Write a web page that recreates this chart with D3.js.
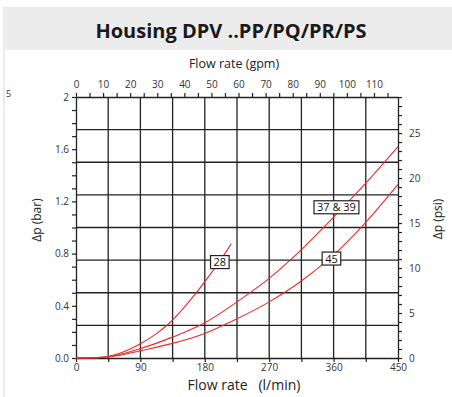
<!DOCTYPE html>
<html><head><meta charset="utf-8">
<script src="https://cdn.jsdelivr.net/npm/d3@7"></script>
<style>
body{margin:0;background:#fff;}
svg{display:block;font-family:"Open Sans",sans-serif;}
</style></head>
<body><svg id="c" width="452" height="397"></svg>
<script>
// ---- data ----
const title = "Housing DPV ..PP/PQ/PR/PS";
const flowLmin = [0, 30, 45, 60, 90, 135, 180, 225, 270, 315, 360, 405, 450];
const series28Flow = [0, 30, 45, 60, 90, 112, 131, 150, 166, 180, 200, 217];
const series28Dp   = [0, 0.003, 0.012, 0.035, 0.11, 0.185, 0.27, 0.38, 0.485, 0.585, 0.735, 0.875];
const series3739Dp = [0, 0.003, 0.01, 0.025, 0.072, 0.16, 0.27, 0.43, 0.61, 0.83, 1.08, 1.34, 1.62];
const series45Dp   = [0, 0.003, 0.009, 0.02, 0.056, 0.112, 0.188, 0.30, 0.43, 0.59, 0.79, 1.04, 1.33];
const seriesNames = ["28", "37 & 39", "45"];
const labelFlow = [201, 364, 357];
const labelDp   = [0.735, 1.155, 0.762];
const xTicksLmin = [0, 45, 90, 135, 180, 225, 270, 315, 360, 405, 450];
const xLabelsLmin = [0, 90, 180, 270, 360, 450];
const gpmLabels = [0, 10, 20, 30, 40, 50, 60, 70, 80, 90, 100, 110];
const barLabels = [0, 0.4, 0.8, 1.2, 1.6, 2];
const psiLabels = [0, 5, 10, 15, 20, 25];
const gridBar = [0.25, 0.5, 0.75, 1, 1.25, 1.5, 1.75];
const gridLmin = [45, 90, 135, 180, 225, 270, 315, 360, 405];
const LMIN_PER_GPM = 3.785411784;
const PSI_PER_BAR = 14.5038;

// ---- layout ----
const svg = d3.select("#c");
const L = 76, R = 398, T = 97, B = 358;
const x = d3.scaleLinear([0, 450], [L, R]);
const xg = d3.scaleLinear([0, 450 / LMIN_PER_GPM], [L, R]);
const y = d3.scaleLinear([0, 2], [B, T]);
const yp = d3.scaleLinear([0, 2 * PSI_PER_BAR], [B, T]);
const ink = "#222", txt = "#333", red = "#ec2a2a";

// header
svg.append("rect").attr("x", 3).attr("y", 7).attr("width", 449).attr("height", 43).attr("fill", "#ececec");
svg.append("rect").attr("x", 3).attr("y", 50).attr("width", 2).attr("height", 347).attr("fill", "#ececec");
svg.append("text").attr("x", 231).attr("y", 38).attr("text-anchor", "middle")
  .attr("font-size", 20).attr("font-weight", "bold").attr("fill", "#1a1a1a").text(title);
svg.append("text").attr("x", 6).attr("y", 97).attr("font-size", 9).attr("fill", txt).text("5");

// grid
const g = svg.append("g");
g.selectAll(".gv").data(gridLmin).join("line")
  .attr("x1", d => x(d)).attr("x2", d => x(d)).attr("y1", T).attr("y2", B)
  .attr("stroke", ink).attr("stroke-width", 1.3);
g.selectAll(".gh").data(gridBar).join("line")
  .attr("x1", L).attr("x2", R).attr("y1", d => y(d)).attr("y2", d => y(d))
  .attr("stroke", ink).attr("stroke-width", 1.3);

function styleAxis(sel) {
  sel.selectAll("path").attr("stroke", ink).attr("stroke-width", 1.3);
  sel.selectAll("line").attr("stroke", ink).attr("stroke-width", 1.2);
  sel.selectAll("text").attr("fill", txt).attr("font-size", 10).attr("font-family", "Open Sans, sans-serif");
}
const near = (a, b) => Math.abs(a - b) < 1e-6;

// bottom axis
const ax1 = svg.append("g").attr("transform", `translate(0,${B})`)
  .call(d3.axisBottom(x).tickValues(xTicksLmin).tickSize(4).tickSizeOuter(0)
    .tickFormat(d => xLabelsLmin.some(v => near(v, d)) ? d : ""));
styleAxis(ax1);
ax1.selectAll("text").attr("y", 6).attr("dy", "0.71em");

// top axis (gpm)
const gpmTicks = d3.range(0, 119, 5);
const ax2 = svg.append("g").attr("transform", `translate(0,${T})`)
  .call(d3.axisTop(xg).tickValues(gpmTicks).tickSize(4).tickSizeOuter(0)
    .tickFormat(d => gpmLabels.some(v => near(v, d)) ? d : ""));
styleAxis(ax2);
ax2.selectAll("text").attr("dy", "-0.2em");

// left axis (bar)
const barTicks = d3.range(0, 21).map(i => i / 10);
const ax3 = svg.append("g").attr("transform", `translate(${L},0)`)
  .call(d3.axisLeft(y).tickValues(barTicks).tickSize(4).tickSizeOuter(0)
    .tickFormat(d => barLabels.some(v => near(v, d)) ? (near(d, 2) ? "2" : d.toFixed(1)) : ""));
styleAxis(ax3);
ax3.selectAll("text").attr("x", -7);

// right axis (psi)
const psiTicks = d3.range(0, 30);
const ax4 = svg.append("g").attr("transform", `translate(${R},0)`)
  .call(d3.axisRight(yp).tickValues(psiTicks).tickSize(4).tickSizeOuter(0)
    .tickFormat(d => psiLabels.includes(d) ? d : ""));
styleAxis(ax4);
ax4.selectAll("text").attr("x", 11);

// axis titles
svg.append("text").attr("x", 234).attr("y", 68).attr("text-anchor", "middle")
  .attr("font-size", 12.5).attr("fill", "#222").text("Flow rate (gpm)");
svg.append("text").attr("x", 244).attr("y", 390).attr("text-anchor", "middle")
  .attr("font-size", 14).attr("fill", "#222").style("white-space", "pre").text("Flow rate   (l/min)");
svg.append("text").attr("transform", "translate(41,220) rotate(-90)").attr("text-anchor", "middle")
  .attr("font-size", 12).attr("fill", "#222").text("Δp (bar)");
svg.append("text").attr("transform", "translate(442,219) rotate(-90)").attr("text-anchor", "middle")
  .attr("font-size", 12).attr("fill", "#222").text("Δp (psi)");

// curves
const line = d3.line().x(d => x(d[0])).y(d => y(d[1])).curve(d3.curveMonotoneX);
const curves = [
  d3.zip(series28Flow, series28Dp),
  d3.zip(flowLmin, series3739Dp),
  d3.zip(flowLmin, series45Dp)
];
svg.append("g").selectAll("path").data(curves).join("path")
  .attr("d", line).attr("fill", "none").attr("stroke", red).attr("stroke-width", 1.1);

// labels
const lab = svg.append("g").selectAll("g").data(seriesNames).join("g")
  .attr("transform", (d, i) => `translate(${x(labelFlow[i])},${y(labelDp[i])})`);
lab.append("text").attr("text-anchor", "middle").attr("dy", "0.36em")
  .attr("font-size", 11).attr("fill", "#111").text(d => d);
lab.each(function () {
  const gEl = d3.select(this);
  const bb = gEl.select("text").node().getBBox();
  gEl.insert("rect", "text").attr("x", bb.x - 3).attr("y", -6.5).attr("width", bb.width + 6).attr("height", 13)
    .attr("fill", "#fff").attr("stroke", "#222").attr("stroke-width", 1.2);
});
</script></body></html>
